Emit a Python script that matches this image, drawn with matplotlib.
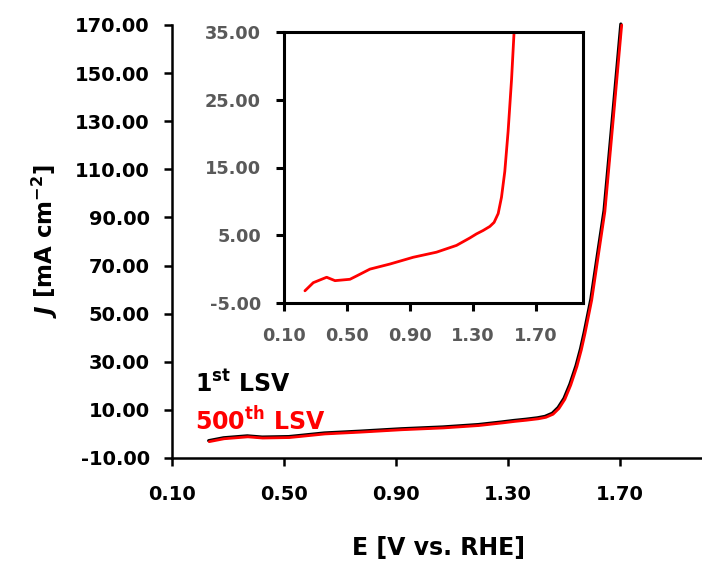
import matplotlib
matplotlib.use("Agg")
import matplotlib.pyplot as plt

plt.rcParams['font.family'] = ['DejaVu Sans']
plt.rcParams['axes.unicode_minus'] = False

# Data (E vs RHE in V, J in mA cm^-2)
e_500 = [0.233, 0.286, 0.339, 0.371, 0.424, 0.519, 0.562, 0.646, 0.773, 0.921,
         1.069, 1.196, 1.281, 1.323, 1.365, 1.408, 1.435, 1.461, 1.482, 1.503,
         1.524, 1.546, 1.562, 1.575, 1.599, 1.622, 1.646, 1.676, 1.706]
j_500 = [-3.2, -2.0, -1.5, -1.2, -1.7, -1.5, -1.0, 0.0, 0.75, 1.75,
         2.5, 3.5, 4.6, 5.2, 5.7, 6.3, 6.9, 8.2, 10.6, 14.4,
         20.3, 28.0, 35.0, 41.8, 55.7, 73.8, 92.5, 131.0, 170.0]

e_1st = [0.231, 0.284, 0.337, 0.369, 0.422, 0.517, 0.560, 0.644, 0.771, 0.919,
         1.067, 1.194, 1.279, 1.321, 1.363, 1.405, 1.432, 1.458, 1.479, 1.500,
         1.521, 1.543, 1.559, 1.572, 1.596, 1.619, 1.643, 1.673, 1.703]
j_1st = [-2.8, -1.6, -1.1, -0.8, -1.3, -1.1, -0.6, 0.4, 1.15, 2.15,
         2.9, 3.9, 5.0, 5.6, 6.1, 6.7, 7.3, 8.6, 11.0, 14.8,
         20.7, 28.4, 35.4, 42.2, 56.1, 74.2, 92.9, 131.4, 170.4]

main_xticks = [0.10, 0.50, 0.90, 1.30, 1.70]
main_yticks = [-10, 10, 30, 50, 70, 90, 110, 130, 150, 170]
inset_yticks = [-5, 5, 15, 25, 35]

W, H = 702, 567
fig = plt.figure(figsize=(W / 100, H / 100), dpi=100)

# main axes
l, r, t, b = 172, 704, 25, 458
ax = fig.add_axes([l / W, 1 - b / H, (r - l) / W, (b - t) / H])
ax.plot(e_1st, j_1st, color='black', lw=2.3, solid_capstyle='round', clip_on=False)
ax.plot(e_500, j_500, color='#ff0000', lw=2.0, solid_capstyle='round', clip_on=False)
ax.set_xlim(0.1, 2.0)
ax.set_ylim(-10, 170)
ax.set_xticks(main_xticks)
ax.set_xticklabels([f'{v:.2f}' for v in main_xticks])
ax.set_yticks(main_yticks)
ax.set_yticklabels([f'{v:.2f}' for v in main_yticks])
for s in ['top', 'right']:
    ax.spines[s].set_visible(False)
for s in ['left', 'bottom']:
    ax.spines[s].set_linewidth(1.8)
ax.tick_params(direction='out', length=5.5, width=1.8, labelsize=14)
ax.tick_params(axis='x', pad=14)
ax.tick_params(axis='y', pad=10.5)
for lab in ax.get_xticklabels() + ax.get_yticklabels():
    lab.set_fontweight('bold')
ax.set_xlabel('E [V vs. RHE]', fontsize=17, fontweight='bold', labelpad=23)
ax.set_ylabel(r'$\mathbfit{J}$ [mA cm$^{\mathbf{-2}}$]', fontsize=16.5, fontweight='bold', labelpad=11)

ax.text(0.183, 17.5, r'1$^{\mathbf{st}}$ LSV', fontsize=17, fontweight='bold',
        color='black', va='baseline')
ax.text(0.183, 1.7, r'500$^{\mathbf{th}}$ LSV', fontsize=17, fontweight='bold',
        color='#ff0000', va='baseline')

# inset
il, ir, it, ib = 284, 583, 32, 303
axi = fig.add_axes([il / W, 1 - ib / H, (ir - il) / W, (ib - it) / H])
axi.plot(e_500, j_500, color='#ff0000', lw=2.0, solid_capstyle='round')
axi.set_xlim(0.1, 2.0)
axi.set_ylim(-5, 35)
axi.set_xticks(main_xticks)
axi.set_xticklabels([f'{v:.2f}' for v in main_xticks])
axi.set_yticks(inset_yticks)
axi.set_yticklabels([f'{v:.2f}' for v in inset_yticks])
for s in axi.spines.values():
    s.set_linewidth(2.2)
axi.tick_params(direction='out', length=5.5, width=2.2, labelsize=12.8,
                labelcolor='#595959')
axi.tick_params(axis='x', pad=12)
axi.tick_params(axis='y', pad=11)
for lab in axi.get_xticklabels() + axi.get_yticklabels():
    lab.set_fontweight('bold')

fig.savefig('out.png', dpi=100)
